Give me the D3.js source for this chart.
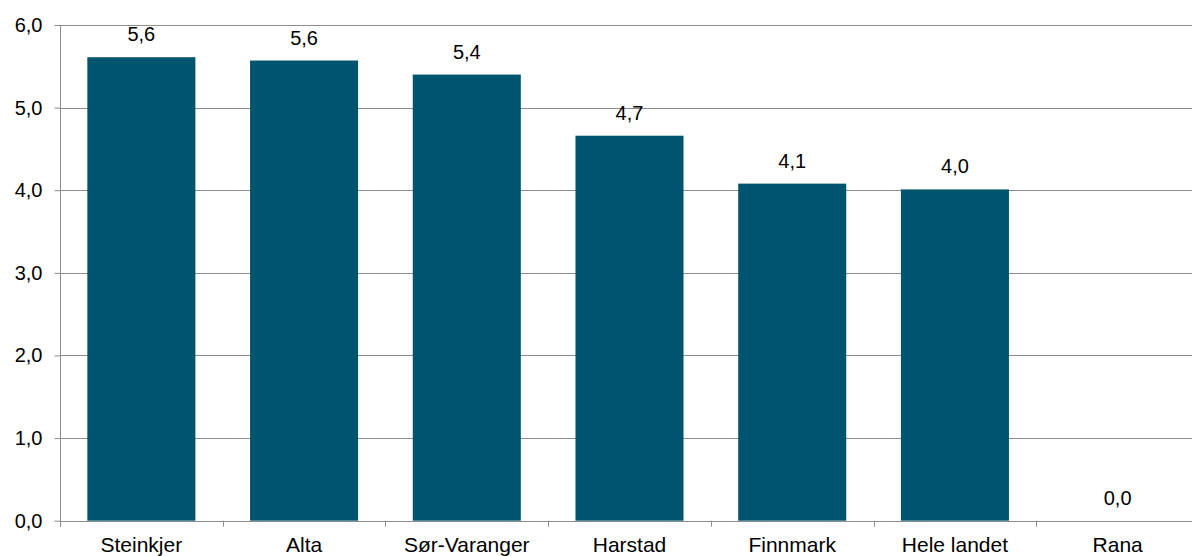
<!DOCTYPE html>
<html><head><meta charset="utf-8">
<script src="https://cdn.jsdelivr.net/npm/d3@7"></script>
<style>
html,body{margin:0;padding:0;background:#fff;}
svg{display:block;font-family:"Liberation Sans",Arial,sans-serif;}
</style></head>
<body><svg id="c" width="1192" height="556"></svg>
<script>
const categories = ["Steinkjer","Alta","Sør-Varanger","Harstad","Finnmark","Hele landet","Rana"];
const values = [5.61, 5.57, 5.40, 4.66, 4.08, 4.01, 0.0];
const yTicks = [0,1,2,3,4,5,6];

(function(){
const svg = d3.select("#c");
const mL = 60, mR = 1199, mT = 25, mB = 520.7;
const x = d3.scaleBand().domain(categories).range([mL, mR]).paddingInner(0.336).paddingOuter(0.168);
const y = d3.scaleLinear().domain([0,6]).range([mB, mT]);
const fmt = v => d3.format(".1f")(v).replace(".", ",");

svg.append("g").selectAll("line").data(yTicks).join("line")
  .attr("x1", mL).attr("x2", mR)
  .attr("y1", d => Math.round(y(d))+0.5).attr("y2", d => Math.round(y(d))+0.5)
  .attr("stroke", "#8c8c8c").attr("stroke-width", 1);

svg.append("g").selectAll("rect").data(values).join("rect")
  .attr("x", (d,i) => x(categories[i]))
  .attr("width", x.bandwidth())
  .attr("y", d => y(d))
  .attr("height", d => y(0) - y(d))
  .attr("fill", "#00546e");

const yAxis = d3.axisLeft(y).tickValues(yTicks).tickFormat(fmt).tickSize(6).tickPadding(12);
const ya = svg.append("g").attr("transform", `translate(${mL+0.5},0)`).call(yAxis);
ya.select(".domain").attr("stroke", "#8c8c8c").attr("d", `M0,${mT}V${mB+6}`);
ya.selectAll(".tick line").attr("stroke", "#8c8c8c");
ya.selectAll(".tick text").attr("font-size", "20px").attr("fill", "#000").attr("font-family", "Liberation Sans, Arial, sans-serif");

const step = x.step();
const bounds = d3.range(categories.length + 1).map(i => mL + i*step);
svg.append("g").selectAll("line").data(bounds).join("line")
  .attr("x1", d => Math.round(d)+0.5).attr("x2", d => Math.round(d)+0.5)
  .attr("y1", mB).attr("y2", mB+6)
  .attr("stroke", "#8c8c8c");

svg.append("g").selectAll("text").data(categories).join("text")
  .attr("x", d => x(d) + x.bandwidth()/2)
  .attr("y", 552)
  .attr("text-anchor", "middle")
  .attr("font-size", "21px")
  .attr("fill", "#000")
  .text(d => d);

svg.append("g").selectAll("text").data(values).join("text")
  .attr("x", (d,i) => x(categories[i]) + x.bandwidth()/2)
  .attr("y", d => y(d) - 16)
  .attr("text-anchor", "middle")
  .attr("font-size", "20px")
  .attr("fill", "#000")
  .text(d => fmt(d));
})();
</script></body></html>
